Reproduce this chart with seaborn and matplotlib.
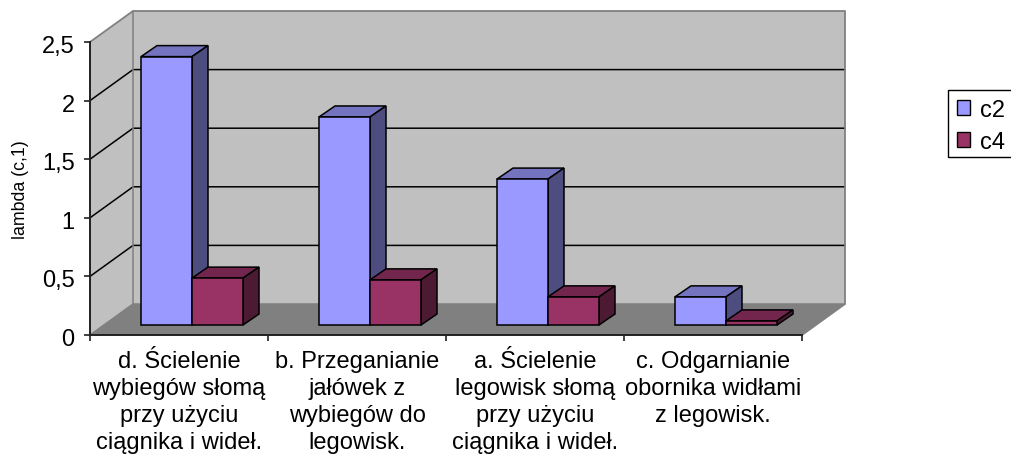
import pandas as pd
import matplotlib
matplotlib.use('Agg')
import matplotlib.pyplot as plt
import seaborn as sns
from matplotlib.patches import Rectangle
from matplotlib.transforms import ScaledTranslation

# dane
categories = ['d. Ścielenie\nwybiegów słomą\nprzy użyciu\nciągnika i wideł.',
              'b. Przeganianie\njałówek z\nwybiegów do\nlegowisk.',
              'a. Ścielenie\nlegowisk słomą\nprzy użyciu\nciągnika i wideł.',
              'c. Odgarnianie\nobornika widłami\nz legowisk.']
c2_values = [2.29, 1.775, 1.245, 0.24]
c4_values = [0.40, 0.385, 0.24, 0.035]
series_names = ['c2', 'c4']
y_ticks = [0, 0.5, 1, 1.5, 2, 2.5]
y_tick_labels = ['0', '0,5', '1', '1,5', '2', '2,5']

W, H = 1011, 456
CAT_PX = 178.0
UNIT_PX = 117.2

# przesuniecia 3D w jednostkach danych
WALL_DX, WALL_DY = 43 / CAT_PX, 31 / UNIT_PX
BAR_DX, BAR_DY = 16 / CAT_PX, 11 / UNIT_PX
SHIFT_X, SHIFT_Y = 13 / CAT_PX, 10 / UNIT_PX

FACE_SHADES = {
    'c2': ('#9999FF', '#7373BF', '#4D4D80'),
    'c4': ('#993366', '#73264D', '#4D1A33'),
}

sns.set_style('white')
plt.rcParams['font.family'] = ['Liberation Sans', 'DejaVu Sans']
plt.rcParams['text.color'] = 'black'
plt.rcParams['xtick.labelcolor'] = 'black'
plt.rcParams['ytick.labelcolor'] = 'black'

df = pd.DataFrame({
    'kategoria': categories * 2,
    'lambda': c2_values + c4_values,
    'seria': [series_names[0]] * 4 + [series_names[1]] * 4,
})

fig = plt.figure(figsize=(W / 100, H / 100), dpi=100)
ax = fig.add_axes([90 / W, (H - 336) / H, 712 / W, 293 / H])
ax.patch.set_alpha(0)

sns.barplot(data=df, x='kategoria', y='lambda', hue='seria', ax=ax,
            palette={k: v[0] for k, v in FACE_SHADES.items()},
            saturation=1, width=102 / CAT_PX, gap=0,
            edgecolor='black', linewidth=1.1, legend=True)

x0, x1 = -0.5, 3.5
ax.set_xlim(x0, x1)
ax.set_ylim(0, 2.5)

# sciany i podloga
wall = '#C0C0C0'
edge = '#808080'
ax.fill([x0 + WALL_DX, x1 + WALL_DX, x1 + WALL_DX, x0 + WALL_DX],
        [WALL_DY, WALL_DY, 2.5 + WALL_DY, 2.5 + WALL_DY],
        fc=wall, ec='none', clip_on=False, zorder=0.1)
ax.fill([x0, x0 + WALL_DX, x0 + WALL_DX, x0],
        [0, WALL_DY, 2.5 + WALL_DY, 2.5],
        fc=wall, ec='none', clip_on=False, zorder=0.1)
ax.fill([x0, x1, x1 + WALL_DX, x0 + WALL_DX],
        [0, 0, WALL_DY, WALL_DY],
        fc='#808080', ec='none', clip_on=False, zorder=0.2)

# siatka
for t in y_ticks[1:-1]:
    ax.plot([x0, x0 + WALL_DX, x1 + WALL_DX], [t, t + WALL_DY, t + WALL_DY],
            color='black', lw=1.1, clip_on=False, zorder=0.3)

# krawedzie scian
ax.plot([x0, x0 + WALL_DX, x1 + WALL_DX, x1 + WALL_DX, x1],
        [2.5, 2.5 + WALL_DY, 2.5 + WALL_DY, WALL_DY, 0],
        color=edge, lw=1.3, clip_on=False, zorder=0.4)
ax.plot([x0 + WALL_DX, x0 + WALL_DX, x1 + WALL_DX], [2.5 + WALL_DY, WALL_DY, WALL_DY],
        color=edge, lw=1.1, clip_on=False, zorder=0.4)
ax.plot([x0, x0 + WALL_DX], [0, WALL_DY], color=edge, lw=1.1, clip_on=False, zorder=0.4)

# slupki 3D: przesuniete w glab, z bokiem i wierzchem
for s, name in enumerate(series_names):
    front, top, side = FACE_SHADES[name]
    z = 2 + s
    for bar in ax.containers[s]:
        bar.set_x(bar.get_x() + SHIFT_X)
        bar.set_y(SHIFT_Y)
        bar.set_zorder(z + 0.1)
        bar.set_clip_on(False)
        xa = bar.get_x()
        xb = xa + bar.get_width()
        yb = SHIFT_Y
        yt = yb + bar.get_height()
        ax.fill([xa, xb, xb + BAR_DX, xa + BAR_DX],
                [yt, yt, yt + BAR_DY, yt + BAR_DY],
                fc=top, ec='black', lw=1.1, clip_on=False, zorder=z)
        ax.fill([xb, xb + BAR_DX, xb + BAR_DX, xb],
                [yb, yb + BAR_DY, yt + BAR_DY, yt],
                fc=side, ec='black', lw=1.1, clip_on=False, zorder=z)

ax.set_xlim(x0, x1)
ax.set_ylim(0, 2.5)

# osie
for name in ['top', 'right']:
    ax.spines[name].set_visible(False)
for name in ['left', 'bottom']:
    ax.spines[name].set_visible(True)
    ax.spines[name].set_color('#202020')
    ax.spines[name].set_linewidth(1.4)
    ax.spines[name].set_zorder(1)

ax.set_yticks(y_ticks)
ax.set_yticklabels(y_tick_labels)
ax.tick_params(axis='y', length=4, width=1.2, color='#202020', labelsize=17, pad=7, left=True)
down = ScaledTranslation(0, -1.5 / 100, fig.dpi_scale_trans)
for lab in ax.get_yticklabels():
    lab.set_transform(lab.get_transform() + down)
ax.set_xticks(range(4))
ax.set_xticklabels(categories, fontsize=17, linespacing=1.29)
ax.set_xticks([-0.5, 0.5, 1.5, 2.5, 3.5], minor=True)
ax.tick_params(axis='x', which='major', length=0, pad=11)
ax.tick_params(axis='x', which='minor', length=4, width=1.2, color='#202020', bottom=True)
ax.set_xlabel('')
ax.set_ylabel('')
fig.text(21 / W, 1 - 190 / H, 'lambda (c,1)', rotation=90, fontsize=12.8,
         ha='center', va='center')

# legenda: ramka wychodzi poza prawa krawedz rysunku
fig.add_artist(Rectangle((948 / W, 1 - 158 / H), 70 / W, 67 / H, transform=fig.transFigure,
                         fc='white', ec='black', lw=1.0))
handles, labels = ax.get_legend_handles_labels()
ax.get_legend().remove()
leg = fig.legend(handles, labels, loc='upper left',
                 bbox_to_anchor=(957 / W, 1 - 100 / H), frameon=False, fontsize=17, borderpad=0,
                 handlelength=0.56, handleheight=0.56, handletextpad=0.4, labelspacing=0.42,
                 borderaxespad=0)
for h in leg.legend_handles:
    h.set_edgecolor('black')
    h.set_linewidth(1.0)

fig.savefig('out.png', dpi=100)
plt.close(fig)
